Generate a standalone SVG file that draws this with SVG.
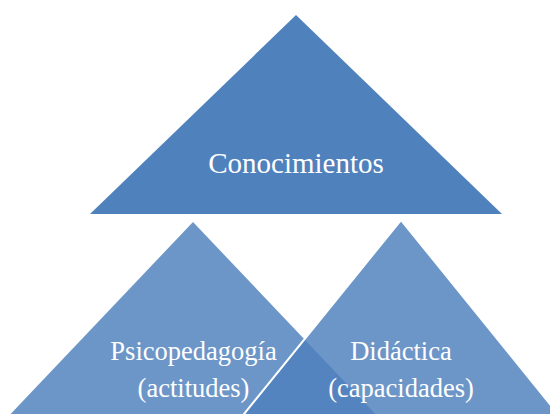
<svg xmlns="http://www.w3.org/2000/svg" width="550" height="414" viewBox="0 0 550 414">
  <style>
    .top { fill: #4F81BD; }
    .low { fill: #4F81BD; fill-opacity: 0.83; }
    .edge { stroke: #FFFFFF; stroke-width: 2; stroke-linejoin: miter; }
    .lbl { fill: #FFFFFF; text-anchor: middle; }
  </style>
  <rect width="550" height="414" fill="#FFFFFF"/>
  <g id="conocimientos">
    <polygon class="top" points="296,15 502,214 90,214"/>
    <text class="lbl" font-family="Liberation Serif, DejaVu Serif, serif" x="296" y="173" font-size="29">Conocimientos</text>
  </g>
  <g id="psicopedagogia">
    <polygon class="low" points="193,222 440,482 -54,482"/>
    <text class="lbl" font-family="Liberation Serif, DejaVu Serif, serif" x="193.5" y="360" font-size="26.5">Psicopedagogía</text>
    <text class="lbl" font-family="Liberation Serif, DejaVu Serif, serif" x="193.5" y="397" font-size="26.5">(actitudes)</text>
  </g>
  <g id="didactica">
    <polygon class="low edge" points="401,220 613,482 189,482"/>
    <text class="lbl" font-family="Liberation Serif, DejaVu Serif, serif" x="401" y="360" font-size="26.5">Didáctica</text>
    <text class="lbl" font-family="Liberation Serif, DejaVu Serif, serif" x="401" y="397" font-size="26.5">(capacidades)</text>
  </g>
</svg>
